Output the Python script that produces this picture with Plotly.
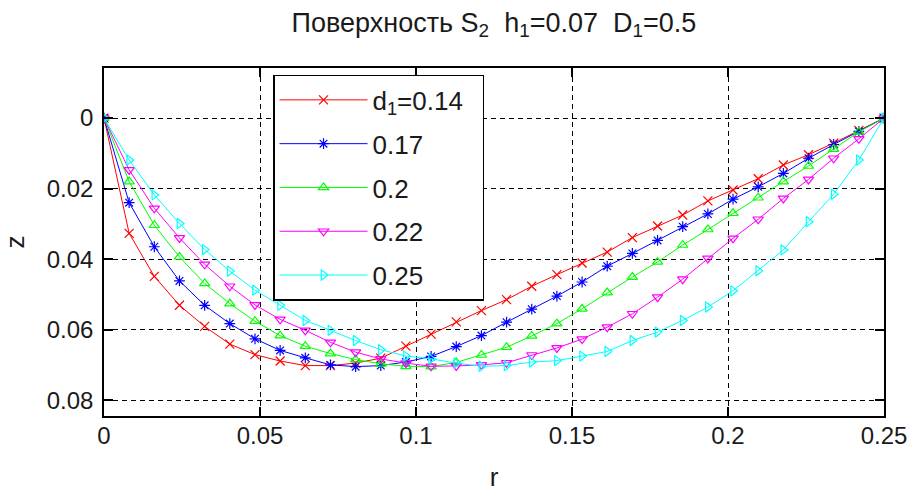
import plotly.graph_objects as go

r = [0.0, 0.00806, 0.01613, 0.02419, 0.03226, 0.04032, 0.04839, 0.05645,
     0.06452, 0.07258, 0.08065, 0.08871, 0.09677, 0.10484, 0.1129, 0.12097,
     0.12903, 0.1371, 0.14516, 0.15323, 0.16129, 0.16935, 0.17742, 0.18548,
     0.19355, 0.20161, 0.20968, 0.21774, 0.22581, 0.23387, 0.24194, 0.25]

z_014 = [0, 0.0327, 0.0449, 0.0531, 0.0591, 0.0641, 0.0671, 0.0689,
         0.0702, 0.0702, 0.0695, 0.0681, 0.0647, 0.0613, 0.0578, 0.0546,
         0.0515, 0.0477, 0.0444, 0.0411, 0.0380, 0.0339, 0.0306, 0.0275,
         0.0235, 0.0204, 0.0172, 0.0133, 0.0104, 0.0071, 0.0035, 0]
z_017 = [0, 0.0240, 0.0365, 0.0462, 0.0531, 0.0583, 0.0626, 0.0659,
         0.0680, 0.0700, 0.0705, 0.0702, 0.0692, 0.0676, 0.0648, 0.0617,
         0.0579, 0.0542, 0.0505, 0.0465, 0.0420, 0.0384, 0.0347, 0.0308,
         0.0272, 0.0230, 0.0195, 0.0157, 0.0114, 0.0075, 0.0038, 0]
z_020 = [0, 0.0180, 0.0304, 0.0394, 0.0469, 0.0526, 0.0576, 0.0617,
         0.0647, 0.0668, 0.0685, 0.0697, 0.0704, 0.0705, 0.0693, 0.0672,
         0.0650, 0.0618, 0.0583, 0.0541, 0.0495, 0.0451, 0.0408, 0.0360,
         0.0316, 0.0270, 0.0226, 0.0180, 0.0136, 0.0088, 0.0039, 0]
z_022 = [0, 0.0147, 0.0256, 0.0340, 0.0415, 0.0477, 0.0530, 0.0571,
         0.0602, 0.0636, 0.0664, 0.0683, 0.0695, 0.0704, 0.0703, 0.0700,
         0.0694, 0.0672, 0.0652, 0.0627, 0.0593, 0.0555, 0.0508, 0.0457,
         0.0398, 0.0341, 0.0287, 0.0228, 0.0174, 0.0114, 0.0059, 0]
z_025 = [0, 0.0119, 0.0218, 0.0299, 0.0373, 0.0434, 0.0488, 0.0531,
         0.0574, 0.0602, 0.0631, 0.0657, 0.0675, 0.0683, 0.0695, 0.0704,
         0.0702, 0.0692, 0.0688, 0.0675, 0.0662, 0.0631, 0.0607, 0.0574,
         0.0536, 0.0490, 0.0433, 0.0374, 0.0294, 0.0216, 0.0119, 0]

names = ["d<sub>1</sub>=0.14\u00a0\u00a0", "0.17", "0.2", "0.22", "0.25"]
series = [z_014, z_017, z_020, z_022, z_025]
colors = ["#ff0000", "#0000ff", "#00ff00", "#ff00ff", "#00ffff"]
symbols = ["x-thin-open", "asterisk-open", "triangle-up-open",
           "triangle-down-open", "triangle-right-open"]

x_ticks = [0, 0.05, 0.1, 0.15, 0.2, 0.25]
x_labels = ["0", "0.05", "0.1", "0.15", "0.2", "0.25"]
y_ticks = [0, 0.02, 0.04, 0.06, 0.08]
y_labels = ["0", "0.02", "0.04", "0.06", "0.08"]

FONT = "Liberation Sans, Arial, sans-serif"
TXT = "#1a1a1a"

fig = go.Figure()
for i, (name, zs, c, s) in enumerate(zip(names, series, colors, symbols)):
    fig.add_trace(go.Scatter(
        x=r, y=zs, name=name, mode="lines+markers", legendgroup=f"g{i}",
        line=dict(color=c, width=1),
        marker=dict(symbol=s, size=9, color=c, line=dict(color=c, width=1.2)),
    ))

axis_common = dict(
    showline=True, linecolor="black", linewidth=1.5, mirror="ticks",
    ticks="inside", ticklen=9, tickwidth=1.5, tickcolor="black",
    showgrid=True, gridcolor="black", gridwidth=1, griddash="5px,4px",
    zeroline=False, automargin=False,
    tickfont=dict(family=FONT, size=24, color=TXT),
    title_font=dict(family=FONT, size=26, color=TXT),
)

fig.update_layout(
    width=912, height=492,
    margin=dict(l=104, r=28, t=68, b=76, autoexpand=False),
    paper_bgcolor="white", plot_bgcolor="white",
    font=dict(family=FONT, size=24, color=TXT),
    title=dict(
        text="Поверхность S<sub>2</sub>\u00a0\u00a0h<sub>1</sub>=0.07\u00a0\u00a0D<sub>1</sub>=0.5",
        x=0.5416, xanchor="center", y=0.955, yanchor="middle",
        font=dict(family=FONT, size=27, color=TXT),
    ),
    xaxis=dict(range=[0, 0.25], tickvals=x_ticks, ticktext=x_labels,
               ticklabelstandoff=-3,
               title=dict(text="r", standoff=22), **axis_common),
    yaxis=dict(range=[0.0845, -0.0142], tickvals=y_ticks, ticktext=y_labels,
               ticklabelstandoff=4,
               title=dict(text="z", standoff=18), **axis_common),
    legend=dict(
        x=0.2167, y=0.98, xanchor="left", yanchor="top",
        bgcolor="white", bordercolor="black", borderwidth=1.5,
        font=dict(family=FONT, size=26, color=TXT),
        itemwidth=88, tracegroupgap=7,
    ),
)

fig.write_html(
    "out.html",
    config={"displayModeBar": False},
    post_script="document.body.style.margin='0';document.body.style.overflow='hidden';",
)
